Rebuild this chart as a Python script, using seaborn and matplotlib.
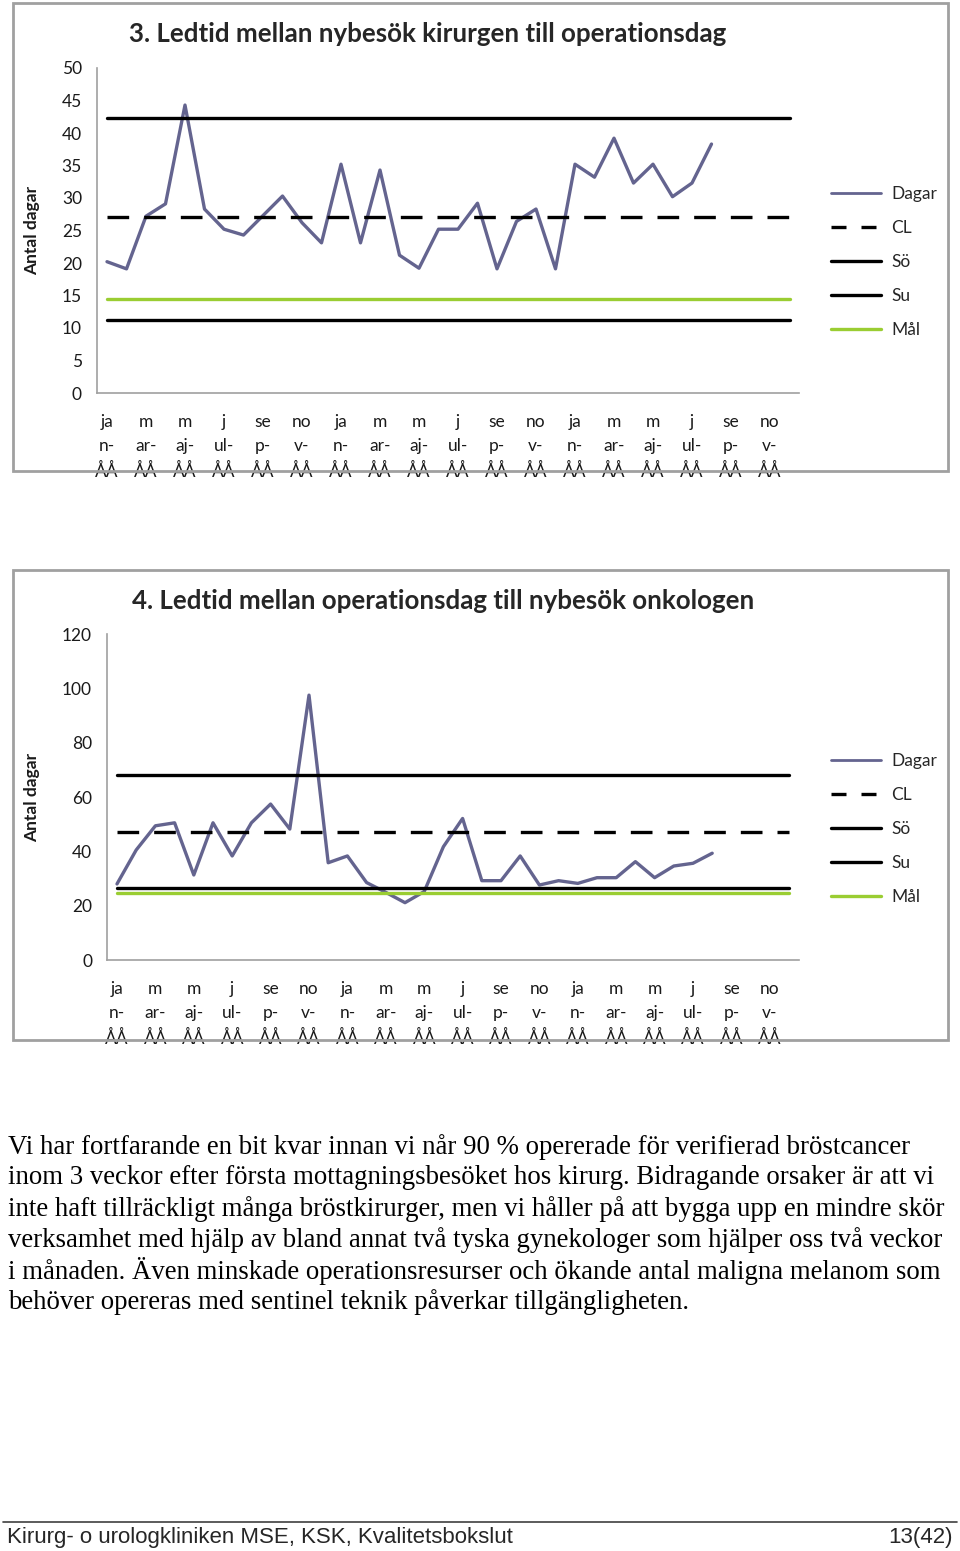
import numpy as np
import pandas as pd
import seaborn as sns
import matplotlib.pyplot as plt
from matplotlib.patches import Rectangle
from matplotlib.lines import Line2D

# Data

month_labels = ["ja\nn-\nÅÅ", "m\nar-\nÅÅ", "m\naj-\nÅÅ", "j\nul-\nÅÅ", "se\np-\nÅÅ", "no\nv-\nÅÅ"] * 3
n_cat = 36

dagar_kir = [20.2, 19.1, 27.2, 29.1, 44.3, 28.3, 25.2, 24.3, 27.3, 30.3, 26.2, 23.1,
             35.2, 23.1, 34.3, 21.2, 19.2, 25.2, 25.2, 29.2, 19.1, 26.4, 28.3, 19.1,
             35.2, 33.2, 39.2, 32.3, 35.2, 30.2, 32.3, 38.3]
limits_kir = {"CL": 27.1, "Sö": 42.3, "Su": 11.2, "Mål": 14.5}

dagar_onk = [28.0, 40.5, 49.4, 50.5, 31.3, 50.5, 38.3, 50.5, 57.4, 48.2, 97.5, 35.8,
             38.3, 28.5, 24.9, 21.1, 25.2, 41.7, 52.1, 29.2, 29.2, 38.3, 27.6, 29.2,
             28.2, 30.3, 30.3, 36.2, 30.3, 34.6, 35.6, 39.3]
limits_onk = {"CL": 47.2, "Sö": 68.1, "Su": 26.6, "Mål": 24.5}

title_kir = "3. Ledtid mellan nybesök kirurgen till operationsdag"
title_onk = "4. Ledtid mellan operationsdag till nybesök onkologen"

paragraph = [
    "Vi har fortfarande en bit kvar innan vi når 90 % opererade för verifierad bröstcancer",
    "inom 3 veckor efter första mottagningsbesöket hos kirurg. Bidragande orsaker är att vi",
    "inte haft tillräckligt många bröstkirurger, men vi håller på att bygga upp en mindre skör",
    "verksamhet med hjälp av bland annat två tyska gynekologer som hjälper oss två veckor",
    "i månaden. Även minskade operationsresurser och ökande antal maligna melanom som",
    "behöver opereras med sentinel teknik påverkar tillgängligheten.",
]
footer_left = "Kirurg- o urologkliniken MSE, KSK, Kvalitetsbokslut"
footer_right = "13(42)"

# Style

sns.set_theme(style="white")
plt.rcParams["font.family"] = ["Lato", "DejaVu Sans"]

W, H = 960, 1551
fig = plt.figure(figsize=(W / 100, H / 100), dpi=100)

DAGAR_C = "#64648f"
GREEN_C = "#9acd32"
AXIS_C = "#a0a0a0"


def fx(px):
    return px / W


def fy(py):
    return 1 - py / H


def draw_chart(box, dagar, limits, ymax, ystep, title, frame, title_xy, legend_y):
    left, top, right, bottom = box
    ax = fig.add_axes([fx(left), fy(bottom), fx(right - left), (bottom - top) / H])

    x = np.arange(n_cat)
    df = pd.DataFrame({"x": np.arange(len(dagar)), "Dagar": dagar})
    sns.lineplot(data=df, x="x", y="Dagar", ax=ax, color=DAGAR_C, lw=2.4)

    ref = pd.DataFrame({"x": x})
    for k in limits:
        ref[k] = np.full(n_cat, limits[k])
    sns.lineplot(data=ref, x="x", y="CL", ax=ax, color="black", lw=2.4)
    ax.lines[-1].set_dashes((6.5, 4.5))
    sns.lineplot(data=ref, x="x", y="Mål", ax=ax, color=GREEN_C, lw=2.4)
    sns.lineplot(data=ref, x="x", y="Sö", ax=ax, color="black", lw=2.4)
    sns.lineplot(data=ref, x="x", y="Su", ax=ax, color="black", lw=2.4)

    ax.set_xlim(-0.5, n_cat - 0.5)
    ax.set_ylim(0, ymax)
    ax.set_yticks(np.arange(0, ymax + 1, ystep))
    ax.set_xticks(np.arange(0, n_cat, 2))
    ax.set_xticklabels(month_labels, linespacing=1.62)
    ax.tick_params(axis="y", length=0, pad=11, labelsize=12.5, labelcolor="#1a1a1a")
    ax.tick_params(axis="x", length=0, pad=15, labelsize=12.5, labelcolor="#1a1a1a")
    ax.set_xlabel("")
    ax.set_ylabel("")
    for s in ["top", "right"]:
        ax.spines[s].set_visible(False)
    for s in ["left", "bottom"]:
        ax.spines[s].set_color(AXIS_C)
        ax.spines[s].set_linewidth(1.2)
    ax.patch.set_alpha(0)

    # frame of the chart
    fl, ft, fr, fb = frame
    fig.patches.append(Rectangle((fx(fl), fy(fb)), fx(fr - fl), (fb - ft) / H,
                                 transform=fig.transFigure, fill=False,
                                 edgecolor=AXIS_C, lw=2, zorder=0))

    fig.text(fx(title_xy[0]), fy(title_xy[1]), title, fontsize=18.6, fontweight="bold",
             ha="left", va="center")
    fig.text(fx(32), fy((top + bottom) / 2), "Antal dagar", rotation=90,
             fontsize=12.5, fontweight="bold", ha="center", va="center",
             color="#1a1a1a")

    handles = [
        Line2D([], [], color=DAGAR_C, lw=2),
        Line2D([], [], color="black", lw=2.4, dashes=(4.5, 4.5)),
        Line2D([], [], color="black", lw=2.4),
        Line2D([], [], color="black", lw=2.4),
        Line2D([], [], color=GREEN_C, lw=2.4),
    ]
    fig.legend(handles, ["Dagar", "CL", "Sö", "Su", "Mål"],
               loc="upper left", bbox_to_anchor=(fx(822), fy(legend_y)),
               frameon=False, fontsize=12.5, handlelength=2.9,
               handletextpad=0.6, labelspacing=1.03, borderpad=0)
    return ax


draw_chart((97.25, 68, 799.25, 393), dagar_kir, limits_kir, 50, 5, title_kir,
           (13, 3, 948, 471), (129, 34), 177.5)
draw_chart((107.4, 634, 798.6, 960), dagar_onk, limits_onk, 120, 20, title_onk,
           (13, 570, 948, 1040), (132, 601), 744.5)

# Text body
for i, line in enumerate(paragraph):
    fig.text(fx(8), fy(1147 + 31 * i), line, fontsize=19.3,
             family=["Liberation Serif", "DejaVu Serif"], ha="left", va="center",
             color="black")

fig.add_artist(Line2D([fx(3), fx(957)], [fy(1522), fy(1522)], color="#404040",
                      lw=1.2, transform=fig.transFigure))
fig.text(fx(7), fy(1538), footer_left, fontsize=16,
         family=["Liberation Sans Narrow", "Liberation Sans"], ha="left", va="center")
fig.text(fx(953), fy(1538), footer_right, fontsize=16,
         family=["Liberation Sans Narrow", "Liberation Sans"], ha="right", va="center")

fig.savefig("out.png", dpi=100)
